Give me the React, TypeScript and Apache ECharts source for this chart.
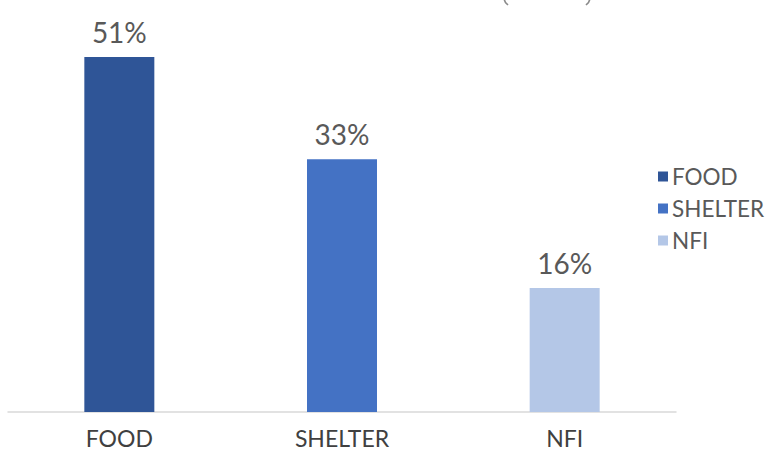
import React, { useEffect, useRef } from "react";
import * as echarts from "echarts";

const categories = ["FOOD", "SHELTER", "NFI"];
const values = [50.7, 36.1, 17.7];
const labels = ["51%", "33%", "16%"];
const colors = ["#2F5597", "#4472C4", "#B4C7E7"];

export default function App() {
  const ref = useRef<HTMLDivElement>(null);
  useEffect(() => {
    if (!ref.current) return;
    const chart = echarts.init(ref.current, null, { renderer: "svg" });
    const font = "Lato, 'Open Sans', sans-serif";
    chart.setOption({
      animation: false,
      legend: {
        orient: "vertical",
        left: 653,
        top: 160,
        itemWidth: 10,
        itemHeight: 10,
        itemGap: 9,
        icon: "rect",
        textStyle: {
          fontFamily: font,
          fontSize: 22.5,
          lineHeight: 20,
          color: "#595959",
          padding: [0, 0, 0, -1],
        },
        data: categories,
      },
      graphic: [
        {
          type: "polyline",
          shape: { points: [[504, -1], [505.5, 2.5], [508, 5]] },
          style: { stroke: "#8a8a8a", lineWidth: 1.6, fill: null },
        },
        {
          type: "polyline",
          shape: { points: [[590, -1], [588.5, 2.5], [586, 5]] },
          style: { stroke: "#8a8a8a", lineWidth: 1.6, fill: null },
        },
      ],
      grid: { left: 8, right: 95, top: 57, bottom: 38, containLabel: false },
      xAxis: {
        type: "category",
        data: categories,
        axisLine: { lineStyle: { color: "#D9D9D9", width: 1.5 } },
        axisTick: { show: false },
        axisLabel: { fontFamily: font, fontSize: 23, color: "#404040", margin: 14 },
      },
      yAxis: { type: "value", min: 0, max: 50.7, show: false, splitLine: { show: false } },
      series: categories.map((c, i) => ({
        name: c,
        type: "bar",
        stack: "s",
        barWidth: 70,
        itemStyle: { color: colors[i] },
        data: categories.map((_, j) => (j === i ? values[i] : null)),
        label: {
          show: true,
          position: "top",
          distance: 11,
          fontFamily: font,
          fontSize: 28,
          color: "#595959",
          formatter: () => labels[i],
        },
      })),
    });
    return () => chart.dispose();
  }, []);
  return <div ref={ref} style={{ width: 771, height: 450, position: "absolute", left: 0, top: 0 }} />;
}
